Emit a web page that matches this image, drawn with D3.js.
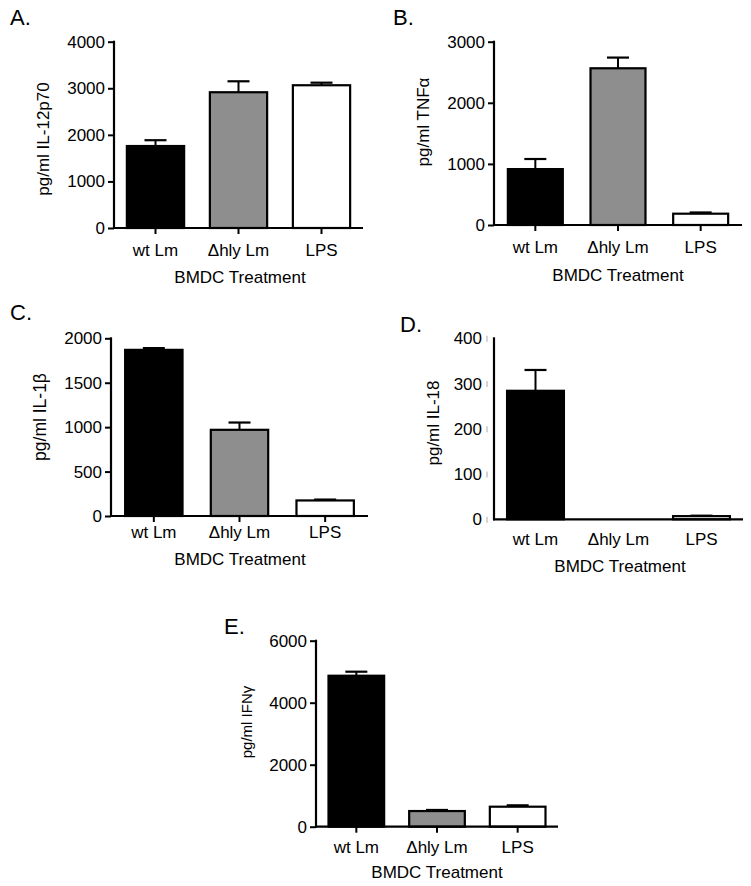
<!DOCTYPE html>
<html><head><meta charset="utf-8">
<script src="https://cdn.jsdelivr.net/npm/d3@7"></script>
<style>
html,body{margin:0;padding:0;background:#fff;}
svg text{font-family:"Liberation Sans",Arial,Helvetica,sans-serif;fill:#000;}
</style></head>
<body>
<svg id="chart" width="751" height="886"></svg>
<script>
// ---- data ----
const categories = ["wt Lm", "\u0394hly Lm", "LPS"];
const barColors = ["#000000", "#8e8e8e", "#ffffff"];

const il12Values = [1760, 2915, 3065];
const il12ErrTop = [1885, 3150, 3120];
const il12Ticks = [0, 1000, 2000, 3000, 4000];

const tnfValues = [915, 2565, 185];
const tnfErrTop = [1080, 2740, 205];
const tnfTicks = [0, 1000, 2000, 3000];

const il1bValues = [1870, 970, 175];
const il1bErrTop = [1890, 1052, 185];
const il1bTicks = [0, 500, 1000, 1500, 2000];

const il18Values = [284, 0, 7];
const il18ErrTop = [330, 0, 8];
const il18Ticks = [0, 100, 200, 300, 400];

const ifngValues = [4870, 505, 645];
const ifngErrTop = [5000, 540, 690];
const ifngTicks = [0, 2000, 4000, 6000];

const panelLabels = ["A.", "B.", "C.", "D.", "E."];
const yTitles = ["pg/ml IL-12p70", "pg/ml TNF\u03b1", "pg/ml IL-1\u03b2", "pg/ml IL-18", "pg/ml IFN\u03b3"];
const xTitle = "BMDC Treatment";

// ---- layout ----
const svg = d3.select("#chart");

const panels = [
  {label:panelLabels[0], lx:10, ly:25, ax:114, ex:363, y0:228, yT:41.7, vals:il12Values, err:il12ErrTop, ticks:il12Ticks,
   title:yTitles[0], tx:43, ty:139, tfs:17, catY:256, xtY:283, xtX:240, bw:0.69, catTicks:true, dTicks:false},
  {label:panelLabels[1], lx:393, ly:25, ax:494, ex:742, y0:225, yT:41.7, vals:tnfValues, err:tnfErrTop, ticks:tnfTicks,
   title:yTitles[1], tx:423, ty:122, tfs:17, catY:253, xtY:281, xtX:618, bw:0.665, catTicks:true, dTicks:false},
  {label:panelLabels[2], lx:10, ly:320, ax:111, ex:368, y0:516, yT:338.3, vals:il1bValues, err:il1bErrTop, ticks:il1bTicks,
   title:yTitles[2], tx:40, ty:417, tfs:17.5, catY:538, xtY:565, xtX:240, bw:0.67, catTicks:true, dTicks:false},
  {label:panelLabels[3], lx:400, ly:332, ax:494, ex:743, y0:519.3, yT:338.3, vals:il18Values, err:il18ErrTop, ticks:il18Ticks,
   title:yTitles[3], tx:433, ty:423, tfs:17, catY:545, xtY:572, xtX:620, bw:0.685, catTicks:false, dTicks:true},
  {label:panelLabels[4], lx:224, ly:634, ax:316, ex:558, y0:826.7, yT:640.7, vals:ifngValues, err:ifngErrTop, ticks:ifngTicks,
   title:yTitles[4], tx:247, ty:722, tfs:15, catY:853, xtY:878, xtX:437, bw:0.69, catTicks:true, dTicks:false}
];

panels.forEach(p => {
  const g = svg.append("g");
  const maxV = p.ticks[p.ticks.length - 1];
  const y = d3.scaleLinear().domain([0, maxV]).range([p.y0, p.yT]);
  const pi = 1 - p.bw;
  const x = d3.scaleBand().domain(categories).range([p.ax, p.ex]).paddingInner(pi).paddingOuter(pi / 2);

  // panel label
  g.append("text").attr("x", p.lx).attr("y", p.ly).attr("font-size", 22).text(p.label);

  // bars
  categories.forEach((c, i) => {
    const v = p.vals[i];
    if (v <= 0) return;
    g.append("rect")
      .attr("x", x(c)).attr("width", x.bandwidth())
      .attr("y", y(v)).attr("height", y(0) - y(v))
      .attr("fill", barColors[i]).attr("stroke", "#000").attr("stroke-width", 2.2);
    const e = p.err[i];
    const cx = x(c) + x.bandwidth() / 2;
    if (e > v) {
      g.append("line").attr("x1", cx).attr("x2", cx).attr("y1", y(v)).attr("y2", y(e))
        .attr("stroke", "#000").attr("stroke-width", 2);
      g.append("line").attr("x1", cx - 11).attr("x2", cx + 11).attr("y1", y(e)).attr("y2", y(e))
        .attr("stroke", "#000").attr("stroke-width", 2.2);
    }
  });

  // y axis
  const yAxis = d3.axisLeft(y).tickValues(p.ticks).tickFormat(d3.format("d"))
    .tickSize(p.dTicks ? 0 : 6).tickPadding(p.dTicks ? 12 : 3);
  const ya = g.append("g").attr("transform", `translate(${p.ax},0)`).call(yAxis);
  ya.select(".domain").remove();
  ya.selectAll(".tick line").attr("stroke", "#000").attr("stroke-width", 2);
  ya.selectAll(".tick text").attr("font-size", 17).attr("font-family", '"Liberation Sans",Arial,sans-serif').attr("fill", "#000");
  if (p.dTicks) {
    ya.selectAll(".tick").append("line")
      .attr("x1", -7).attr("x2", -7).attr("y1", -3).attr("y2", 3)
      .attr("stroke", "#aaa").attr("stroke-width", 1);
  }
  g.append("line").attr("x1", p.ax).attr("x2", p.ax).attr("y1", p.yT - 1).attr("y2", p.y0 + 1)
    .attr("stroke", "#000").attr("stroke-width", 2.2);

  // x baseline
  const xAxis = d3.axisBottom(x).tickSize(p.catTicks ? 6 : 0).tickFormat("");
  const xa = g.append("g").attr("transform", `translate(0,${p.y0})`).call(xAxis);
  xa.select(".domain").remove();
  xa.selectAll(".tick line").attr("stroke", "#000").attr("stroke-width", 2);
  xa.selectAll(".tick text").remove();
  g.append("line").attr("x1", p.ax - 1).attr("x2", p.ex).attr("y1", p.y0).attr("y2", p.y0)
    .attr("stroke", "#000").attr("stroke-width", 2.2);

  // category labels
  categories.forEach(c => {
    g.append("text").attr("x", x(c) + x.bandwidth() / 2).attr("y", p.catY)
      .attr("text-anchor", "middle").attr("font-size", 17).text(c);
  });

  // x title
  g.append("text").attr("x", p.xtX).attr("y", p.xtY).attr("text-anchor", "middle")
    .attr("font-size", 17).text(xTitle);

  // y title
  g.append("text").attr("transform", `translate(${p.tx},${p.ty}) rotate(-90)`)
    .attr("text-anchor", "middle").attr("dy", "0.35em").attr("font-size", p.tfs).text(p.title);
});
</script>
</body></html>
